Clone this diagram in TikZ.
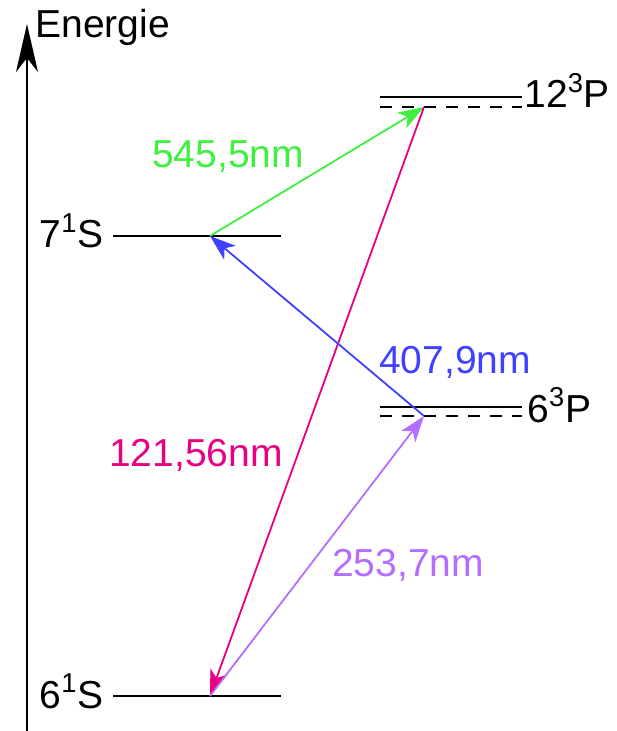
\documentclass[tikz,border=0pt]{standalone}
\usepackage{fontspec}
\setmainfont{Liberation Sans}
\usepackage{tikz}
\usetikzlibrary{arrows.meta,positioning}
\definecolor{hgGreen}{RGB}{64,240,64}
\definecolor{hgMagenta}{RGB}{232,0,130}
\definecolor{hgBlue}{RGB}{64,64,255}
\definecolor{hgPurple}{RGB}{180,110,255}

\begin{document}
\begin{tikzpicture}[x=0.5pt,y=-0.5pt,
  every node/.style={font=\fontsize{19.5}{23}\selectfont, inner sep=0pt},
  level/.style={line width=1pt},
  sublevel/.style={line width=0.9pt, dash pattern=on 6pt off 5pt},
  trans/.style={line width=0.9pt, -{Stealth[length=13pt,width=9pt,inset=3.5pt]}}]
\useasboundingbox (0,0) rectangle (616,731);
% energy axis
\coordinate (axbot) at (27,731);
\coordinate (axtop) at (27,24);
\draw[line width=1pt, -{Stealth[length=24pt,width=11pt,inset=7pt]}] (axbot)--(axtop);
\node[anchor=base west] (energie) at (35,38) {Energie};
% singlet levels
\coordinate (s7l) at (113,236); \coordinate (s7r) at (281,236);
\coordinate (s6l) at (113,696); \coordinate (s6r) at (281,696);
\draw[level] (s7l)--(s7r);
\draw[level] (s6l)--(s6r);
\node[anchor=base east] (s7lab) at (104,248) {7\textsuperscript{1}S};
\node[anchor=base east] (s6lab) at (104,708) {6\textsuperscript{1}S};
% triplet levels (solid + dashed)
\coordinate (p12l) at (380,97);  \coordinate (p12r) at (522,97);
\coordinate (p12dl) at (380,107); \coordinate (p12dr) at (522,107);
\coordinate (p6l) at (380,407);  \coordinate (p6r) at (522,407);
\coordinate (p6dl) at (380,416); \coordinate (p6dr) at (522,416);
\draw[level] (p12l)--(p12r);
\draw[sublevel] (p12dl)--(p12dr);
\draw[level] (p6l)--(p6r);
\draw[sublevel] (p6dl)--(p6dr);
\node[anchor=base west] (p12lab) at (524,108) {12\textsuperscript{3}P};
\node[anchor=base west] (p6lab) at (527,422) {6\textsuperscript{3}P};
% transitions
\coordinate (s7) at (210,236);
\coordinate (s6) at (210,696);
\coordinate (p12) at (424,107);
\coordinate (p6) at (424,416);
\draw[trans, hgGreen] (s7)--(p12);
\draw[trans, hgMagenta] (p12)--(s6);
\draw[trans, hgBlue] (p6)--(s7);
\draw[trans, hgPurple] (s6)--(p6);
\node[anchor=base, text=hgGreen] (lgreen) at (228,168) {545,5nm};
\node[anchor=base, text=hgMagenta] (lmagenta) at (196,466) {121,56nm};
\node[anchor=base, text=hgBlue] (lblue) at (455,373) {407,9nm};
\node[anchor=base, text=hgPurple] (lpurple) at (408,576) {253,7nm};
\end{tikzpicture}
\end{document}
